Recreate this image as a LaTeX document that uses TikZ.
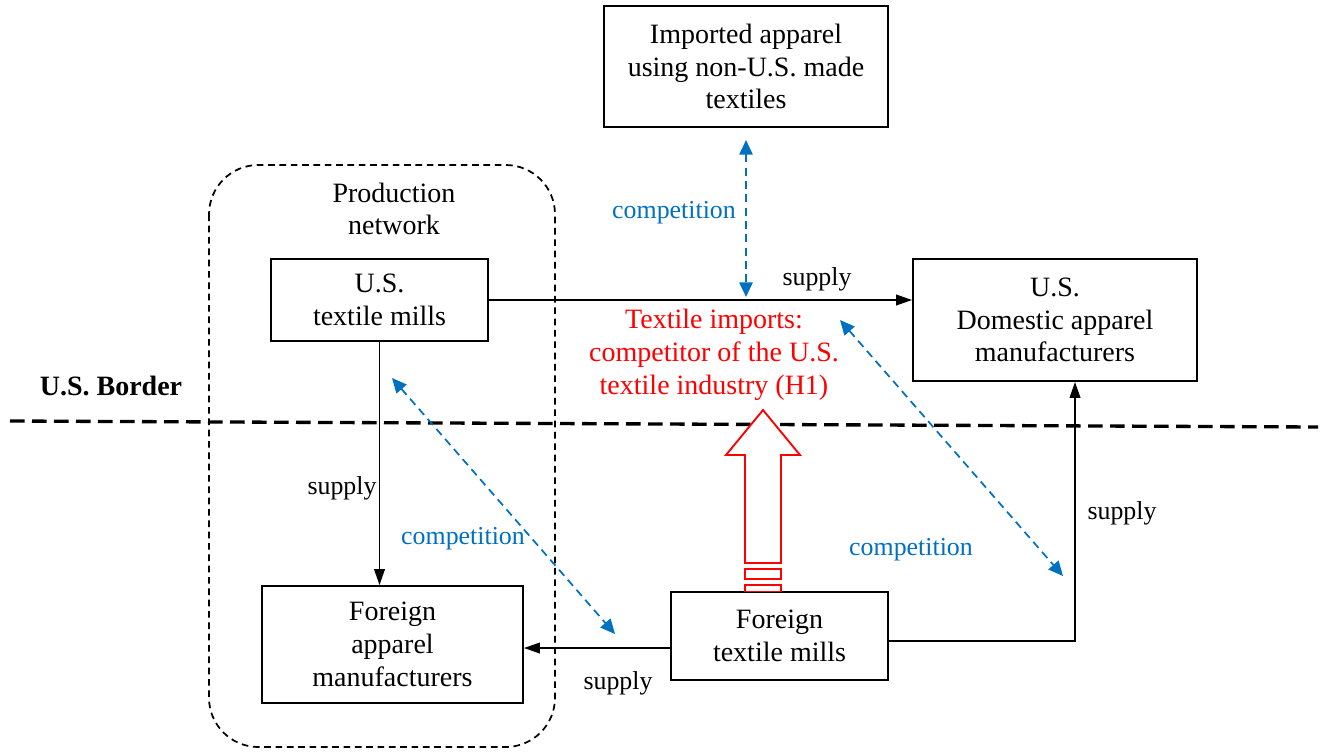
\documentclass[tikz,border=0pt]{standalone}
\usepackage{fontspec}
\setmainfont{Liberation Serif}
\usetikzlibrary{arrows.meta}
\definecolor{compblue}{RGB}{0,112,192}
\begin{document}
\begin{tikzpicture}[x=0.75pt,y=-0.75pt,
  box/.style={draw, line width=1.4pt, inner sep=0pt, align=center, font=\fontsize{21}{24.6}\selectfont},
  txt/.style={inner sep=0pt, align=center, yshift=-1.5pt, font=\fontsize{21}{24.6}\selectfont},
  lbl/.style={inner sep=0pt, yshift=-1.5pt, font=\fontsize{19.4}{22}\selectfont},
  flow/.style={line width=1.3pt, -{Triangle[length=12pt,width=8pt]}},
  comp/.style={compblue, line width=1.3pt, dash pattern=on 6pt off 4pt,
     {Triangle[length=11pt,width=10pt]}-{Triangle[length=11pt,width=10pt]}},
  hollow/.style={red, line width=1.4pt, fill=white},
]
\useasboundingbox (0,0) rectangle (1323,751);

% production network
\draw[line width=1.3pt, dash pattern=on 5pt off 3.5pt, rounded corners=37pt] (209,165) rectangle (555,747);
\node[txt] (pn) at (394,207) {Production\\network};

% border
\draw[line width=2.5pt, dash pattern=on 11pt off 5.5pt] (10,421) -- (1318,427);
\node[txt, font=\fontsize{21}{24.6}\selectfont\bfseries] (border) at (111,384) {U.S. Border};

% boxes
\node[box, minimum width=213pt, minimum height=90.75pt] (imp) at (746,66.5) {Imported apparel\\using non-U.S. made\\textiles};
\node[box, minimum width=162.75pt, minimum height=61.5pt] (usm) at (379.5,300) {U.S.\\textile mills};
\node[box, minimum width=213pt, minimum height=91.5pt] (dom) at (1055,320) {U.S.\\Domestic apparel\\manufacturers};
\node[box, minimum width=195.75pt, minimum height=87.75pt] (fam) at (392.5,644.5) {Foreign\\apparel\\manufacturers};
\node[box, minimum width=162.75pt, minimum height=66pt] (ftm) at (779.5,636) {Foreign\\textile mills};

% red hollow arrow
\draw[hollow] (745,563) -- (745,455) -- (726,455) -- (763,410) -- (800,455) -- (781,455) -- (781,563) -- cycle;
\draw[hollow] (745,569) rectangle (781,579);
\draw[hollow] (745,585) rectangle (781,591.5);
\node[txt, text=red] (h1) at (714,352.5) {Textile imports:\\competitor of the U.S.\\textile industry (H1)};

% supply flows
\draw[flow] (usm.east) -- (usm.east -| dom.west);
\node[lbl] (s1) at (817,277) {supply};
\draw[flow] (usm.south) -- (usm.south |- fam.north);
\node[lbl] (s2) at (342,486) {supply};
\draw[flow] ([yshift=-9pt]ftm.west) -- ([yshift=-9pt]ftm.west -| fam.east);
\node[lbl] (s3) at (618,681) {supply};
\coordinate (domin) at ([xshift=15pt]dom.south);
\draw[flow] ([yshift=-3.75pt]ftm.east) -| (domin);
\node[lbl] (s4) at (1122,511) {supply};

% competition
\coordinate (c1a) at (746,140);
\coordinate (c1b) at (746,297);
\draw[comp] (c1a) -- (c1b);
\node[lbl, text=compblue] (k1) at (674,211) {competition};
\coordinate (c2a) at (392,378);
\coordinate (c2b) at (615,634);
\draw[comp] (c2a) -- (c2b);
\node[lbl, text=compblue] (k2) at (463,537) {competition};
\coordinate (c3a) at (840,320);
\coordinate (c3b) at (1063,576);
\draw[comp] (c3a) -- (c3b);
\node[lbl, text=compblue] (k3) at (911,548) {competition};
\end{tikzpicture}
\end{document}
